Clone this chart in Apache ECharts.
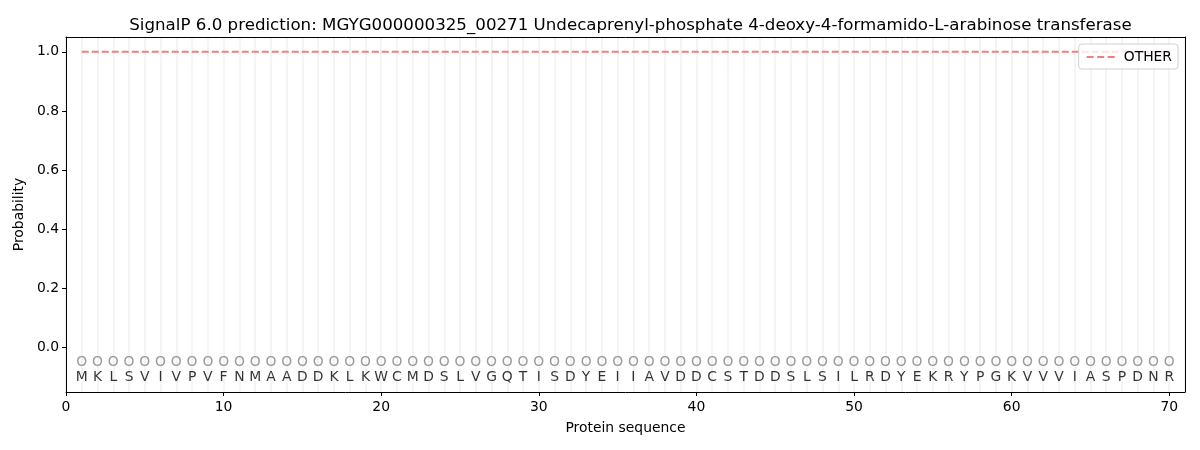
<!DOCTYPE html>
<html><head><meta charset="utf-8">
<script src="https://cdn.jsdelivr.net/npm/echarts@6/dist/echarts.min.js"></script>
<style>html,body{margin:0;padding:0;background:#fff}#c{width:1200px;height:450px}</style>
</head><body><div id="c"></div>
<script>
const titleText = 'SignalP 6.0 prediction: MGYG000000325_00271 Undecaprenyl-phosphate 4-deoxy-4-formamido-L-arabinose transferase';
const sequence = 'MKLSVIVPVFNMAADDKLKWCMDSLVGQTISDYEIIAVDDCSTDDSLSILRDYEKRYPGKVVVIASPDNR'.split('');
const positions = sequence.map((_, i) => i + 1);
const otherProb = positions.map(() => 1.0);
const markerY = -0.05;
const letterY = -0.1;
const yTicks = [0.0, 0.2, 0.4, 0.6, 0.8, 1.0];

const font = 'DejaVu Sans';
const fs = 13.9;
const chart = echarts.init(document.getElementById('c'), null, {renderer: 'canvas'});
chart.setOption({
  animation: false,
  title: {text: titleText, left: 625.5, textAlign: 'center', top: 12,
    textStyle: {fontFamily: font, fontSize: 16.67, fontWeight: 'normal', color: '#000'}},
  grid: {left: 66, right: 15, top: 37, bottom: 58, show: false},
  legend: {right: 22, top: 44, orient: 'vertical', data: ['OTHER'],
    backgroundColor: 'rgba(255,255,255,0.8)', borderColor: '#d0d0d0', borderWidth: 1, borderRadius: 3,
    padding: [6, 6, 5, 8], itemWidth: 28, itemHeight: 2, itemGap: 4,
    icon: 'path://M0,0h7v2h-7z M10.5,0h7v2h-7z M21,0h7v2h-7z',
    itemStyle: {color: '#f08080'},
    textStyle: {fontFamily: font, fontSize: fs, color: '#000', padding: [0, 0, 0, 4]}},
  xAxis: [{
    type: 'value', min: 0, max: 71, interval: 10,
    name: 'Protein sequence', nameLocation: 'middle', nameGap: 29,
    nameTextStyle: {fontFamily: font, fontSize: fs, color: '#000'},
    axisLine: {show: true, onZero: false, lineStyle: {color: '#000'}},
    axisTick: {show: true, length: 4, lineStyle: {color: '#000'}},
    axisLabel: {fontFamily: font, fontSize: fs, color: '#000', margin: 8, showMaxLabel: false},
    splitLine: {show: false}, z: 5
  }, {
    type: 'value', min: 0, max: 71, interval: 1, position: 'top',
    axisLine: {show: true, onZero: false, lineStyle: {color: '#000'}}, axisTick: {show: false}, axisLabel: {show: false},
    splitLine: {show: true, lineStyle: {color: '#f4f4f4', width: 2}}
  }],
  yAxis: [{
    type: 'value', min: -0.15, max: 1.05,
    name: 'Probability', nameLocation: 'middle', nameGap: 40,
    nameTextStyle: {fontFamily: font, fontSize: fs, color: '#000'},
    axisLine: {show: true, onZero: false, lineStyle: {color: '#000'}},
    axisTick: {show: true, length: 4, lineStyle: {color: '#000'}, customValues: yTicks},
    axisLabel: {fontFamily: font, fontSize: fs, color: '#000', margin: 7, customValues: yTicks,
      formatter: v => Math.abs(v) < 1e-9 ? '0.0' : v.toFixed(1)},
    splitLine: {show: false}, z: 5
  }, {
    type: 'value', min: -0.15, max: 1.05, position: 'right',
    axisLine: {show: true, onZero: false, lineStyle: {color: '#000'}},
    axisTick: {show: false}, axisLabel: {show: false}, splitLine: {show: false}, z: 5
  }],
  series: [{
    name: 'OTHER', type: 'line', xAxisIndex: 0, yAxisIndex: 0,
    data: positions.map((p, i) => [p, otherProb[i]]),
    showSymbol: false, symbol: 'none',
    lineStyle: {color: '#f08080', width: 2, type: [7, 3]},
    itemStyle: {color: '#f08080'}, z: 3
  }, {
    name: 'markers', type: 'scatter', xAxisIndex: 0, yAxisIndex: 0,
    data: positions.map(p => [p, markerY]),
    symbolSize: 1, itemStyle: {color: 'rgba(0,0,0,0)'},
    label: {show: true, position: 'inside', formatter: 'O', fontFamily: font, fontSize: fs, color: '#808080'},
    silent: true, z: 4
  }, {
    name: 'letters', type: 'scatter', xAxisIndex: 0, yAxisIndex: 0,
    data: positions.map((p, i) => ({value: [p, letterY], aa: sequence[i]})),
    symbolSize: 1, itemStyle: {color: 'rgba(0,0,0,0)'},
    label: {show: true, position: 'inside', formatter: prm => prm.data.aa, fontFamily: font, fontSize: fs, color: '#000'},
    silent: true, z: 4
  }]
});
</script></body></html>
